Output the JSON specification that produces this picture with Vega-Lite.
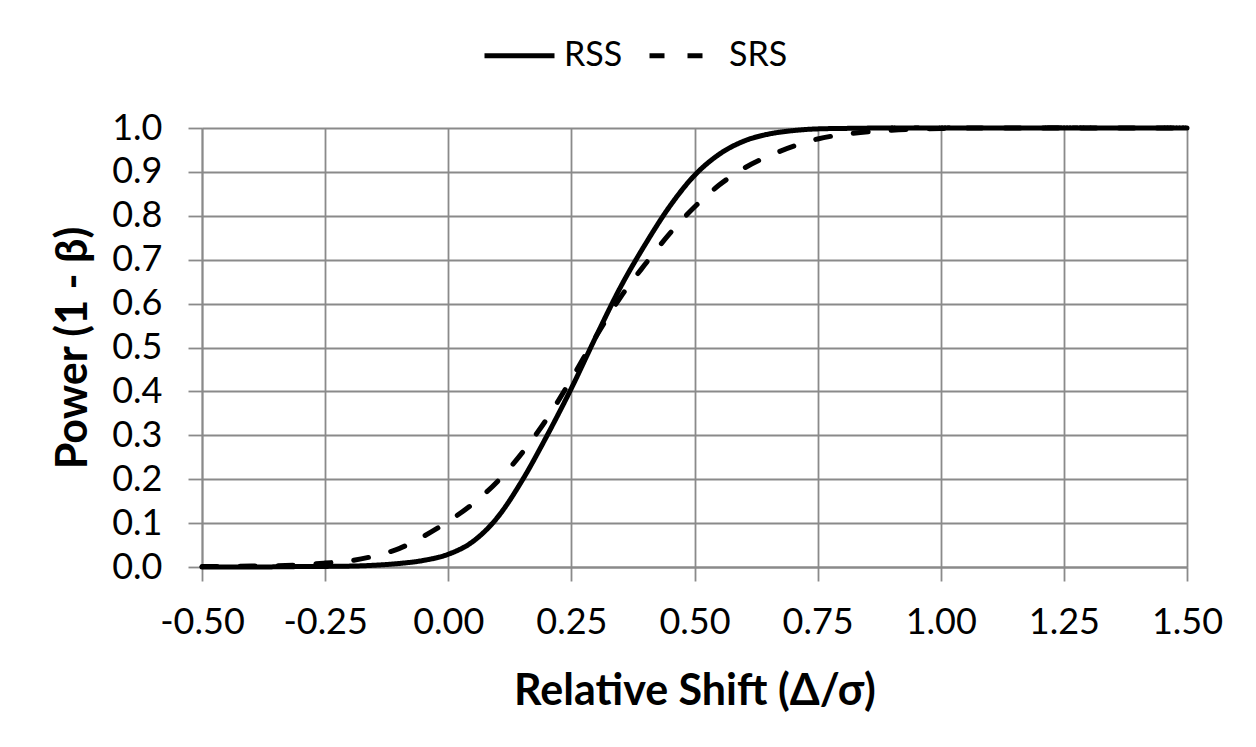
{
  "$schema": "https://vega.github.io/schema/vega-lite/v6.json",
  "width": 985,
  "height": 439,
  "autosize": {"type": "none"},
  "padding": {"left": 202, "top": 128, "right": 69, "bottom": 180},
  "background": "white",
  "config": {
    "font": "Lato",
    "view": {"stroke": null},
    "axis": {
      "gridColor": "#8a8a8a",
      "gridWidth": 1.8,
      "gridOpacity": 1,
      "domainColor": "#8a8a8a",
      "domainWidth": 1.8,
      "tickColor": "#8a8a8a",
      "tickWidth": 1.8,
      "tickSize": 14,
      "labelFont": "Lato",
      "labelFontSize": 36,
      "labelColor": "black",
      "labelOverlap": false,
      "labelBound": false,
      "labelFlush": false,
      "titleFont": "Lato",
      "titleFontWeight": "bold",
      "titleColor": "black"
    }
  },
  "data": {
    "values": [
      {"x": -0.5, "power": 0.0, "design": "RSS"},
      {"x": -0.4, "power": 0.0, "design": "RSS"},
      {"x": -0.3, "power": 0.001, "design": "RSS"},
      {"x": -0.2, "power": 0.002, "design": "RSS"},
      {"x": -0.15, "power": 0.004, "design": "RSS"},
      {"x": -0.1, "power": 0.008, "design": "RSS"},
      {"x": -0.05, "power": 0.015, "design": "RSS"},
      {"x": 0.0, "power": 0.029, "design": "RSS"},
      {"x": 0.05, "power": 0.058, "design": "RSS"},
      {"x": 0.1, "power": 0.113, "design": "RSS"},
      {"x": 0.15, "power": 0.197, "design": "RSS"},
      {"x": 0.2, "power": 0.298, "design": "RSS"},
      {"x": 0.25, "power": 0.407, "design": "RSS"},
      {"x": 0.3, "power": 0.525, "design": "RSS"},
      {"x": 0.35, "power": 0.638, "design": "RSS"},
      {"x": 0.4, "power": 0.735, "design": "RSS"},
      {"x": 0.45, "power": 0.822, "design": "RSS"},
      {"x": 0.5, "power": 0.892, "design": "RSS"},
      {"x": 0.55, "power": 0.94, "design": "RSS"},
      {"x": 0.6, "power": 0.97, "design": "RSS"},
      {"x": 0.65, "power": 0.986, "design": "RSS"},
      {"x": 0.7, "power": 0.994, "design": "RSS"},
      {"x": 0.75, "power": 0.998, "design": "RSS"},
      {"x": 0.8, "power": 0.999, "design": "RSS"},
      {"x": 0.9, "power": 1.0, "design": "RSS"},
      {"x": 1.0, "power": 1.0, "design": "RSS"},
      {"x": 1.5, "power": 1.0, "design": "RSS"},
      {"x": -0.5, "power": 0.001, "design": "SRS"},
      {"x": -0.4, "power": 0.002, "design": "SRS"},
      {"x": -0.3, "power": 0.005, "design": "SRS"},
      {"x": -0.25, "power": 0.009, "design": "SRS"},
      {"x": -0.2, "power": 0.014, "design": "SRS"},
      {"x": -0.15, "power": 0.025, "design": "SRS"},
      {"x": -0.1, "power": 0.042, "design": "SRS"},
      {"x": -0.05, "power": 0.07, "design": "SRS"},
      {"x": 0.0, "power": 0.104, "design": "SRS"},
      {"x": 0.05, "power": 0.144, "design": "SRS"},
      {"x": 0.1, "power": 0.195, "design": "SRS"},
      {"x": 0.15, "power": 0.26, "design": "SRS"},
      {"x": 0.2, "power": 0.337, "design": "SRS"},
      {"x": 0.25, "power": 0.428, "design": "SRS"},
      {"x": 0.3, "power": 0.525, "design": "SRS"},
      {"x": 0.35, "power": 0.615, "design": "SRS"},
      {"x": 0.4, "power": 0.69, "design": "SRS"},
      {"x": 0.45, "power": 0.76, "design": "SRS"},
      {"x": 0.5, "power": 0.82, "design": "SRS"},
      {"x": 0.55, "power": 0.87, "design": "SRS"},
      {"x": 0.6, "power": 0.908, "design": "SRS"},
      {"x": 0.65, "power": 0.936, "design": "SRS"},
      {"x": 0.7, "power": 0.958, "design": "SRS"},
      {"x": 0.75, "power": 0.975, "design": "SRS"},
      {"x": 0.8, "power": 0.985, "design": "SRS"},
      {"x": 0.9, "power": 0.995, "design": "SRS"},
      {"x": 1.0, "power": 0.999, "design": "SRS"},
      {"x": 1.1, "power": 1.0, "design": "SRS"},
      {"x": 1.5, "power": 1.0, "design": "SRS"}
    ]
  },
  "mark": {"type": "line", "color": "black", "strokeWidth": 5, "strokeCap": "round", "interpolate": "monotone"},
  "encoding": {
    "x": {
      "field": "x",
      "type": "quantitative",
      "scale": {"domain": [-0.5, 1.5], "nice": false},
      "axis": {
        "values": [-0.5, -0.25, 0, 0.25, 0.5, 0.75, 1.0, 1.25, 1.5],
        "labelExpr": "replace(format(datum.value, '.2f'), '−', '-')",
        "labelPadding": 24,
        "title": "Relative Shift (Δ/σ)",
        "titleFontSize": 43,
        "titlePadding": 30
      }
    },
    "y": {
      "field": "power",
      "type": "quantitative",
      "scale": {"domain": [0, 1], "nice": false},
      "axis": {
        "values": [0, 0.1, 0.2, 0.3, 0.4, 0.5, 0.6, 0.7, 0.8, 0.9, 1.0],
        "format": ".1f",
        "labelPadding": 26,
        "title": "Power (1 - β)",
        "titleFontSize": 43,
        "titlePadding": 16
      }
    },
    "strokeDash": {
      "field": "design",
      "type": "nominal",
      "scale": {"domain": ["RSS", "SRS"], "range": [[1, 0], [15, 23]]},
      "legend": {
        "title": null,
        "orient": "none",
        "direction": "horizontal",
        "legendX": 280,
        "legendY": -110,
        "symbolType": "stroke",
        "symbolSize": 4900,
        "symbolStrokeWidth": 5,
        "symbolStrokeColor": "black",
        "labelFontSize": 34,
        "labelFont": "Lato",
        "labelColor": "black",
        "labelOffset": 7,
        "columnPadding": 16,
        "padding": 0
      }
    }
  }
}
